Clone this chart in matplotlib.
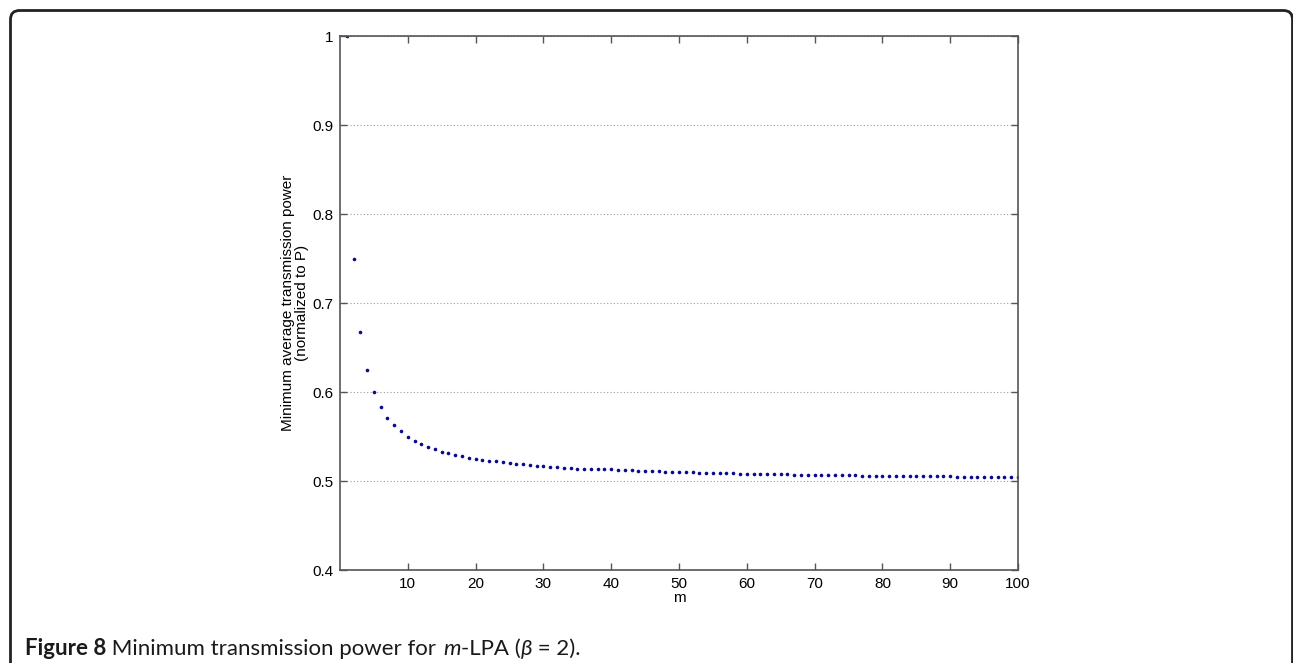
import matplotlib
matplotlib.use("Agg")
import matplotlib.pyplot as plt
from matplotlib.patches import FancyBboxPatch

m_values = list(range(1, 101))
power = [
    1.000, 0.750, 0.667, 0.625, 0.600, 0.583, 0.571, 0.563, 0.556, 0.550,
    0.545, 0.542, 0.538, 0.536, 0.533, 0.531, 0.529, 0.528, 0.526, 0.525,
    0.524, 0.523, 0.522, 0.521, 0.520, 0.519, 0.519, 0.518, 0.517, 0.517,
    0.516, 0.516, 0.515, 0.515, 0.514, 0.514, 0.514, 0.513, 0.513, 0.513,
    0.512, 0.512, 0.512, 0.511, 0.511, 0.511, 0.511, 0.510, 0.510, 0.510,
    0.510, 0.510, 0.509, 0.509, 0.509, 0.509, 0.509, 0.509, 0.508, 0.508,
    0.508, 0.508, 0.508, 0.508, 0.508, 0.508, 0.507, 0.507, 0.507, 0.507,
    0.507, 0.507, 0.507, 0.507, 0.507, 0.507, 0.506, 0.506, 0.506, 0.506,
    0.506, 0.506, 0.506, 0.506, 0.506, 0.506, 0.506, 0.506, 0.506, 0.506,
    0.505, 0.505, 0.505, 0.505, 0.505, 0.505, 0.505, 0.505, 0.505, 0.505,
]
x_ticks = [10, 20, 30, 40, 50, 60, 70, 80, 90, 100]
y_ticks = [0.4, 0.5, 0.6, 0.7, 0.8, 0.9, 1.0]
y_tick_labels = ["0.4", "0.5", "0.6", "0.7", "0.8", "0.9", "1"]

W, H = 1293, 663
fig = plt.figure(figsize=(W / 100, H / 100), dpi=100)
fig.patch.set_facecolor("white")

# outer frame (rounded top corners, open at bottom)
frame = FancyBboxPatch((10.5, -40), 1292.5 - 10.5, 652.5 + 40,
                       boxstyle="round,pad=0,rounding_size=9",
                       transform=None, fill=False, edgecolor="#222222",
                       linewidth=2.0, clip_on=False)
fig.patches.append(frame)

ax = fig.add_axes([340 / W, 1 - 570 / H, (1018 - 340) / W, (570 - 36) / H])
ax.plot(m_values, power, linestyle="none", marker="o", markersize=2.6,
        color="#0a0a8c", markeredgewidth=0)

ax.set_xlim(0, 100)
ax.set_ylim(0.4, 1.0)
ax.set_xticks(x_ticks)
ax.set_xticklabels([str(t) for t in x_ticks])
ax.set_yticks(y_ticks)
ax.set_yticklabels(y_tick_labels)
ax.yaxis.grid(True, linestyle=(0, (1, 2)), color="#9a9a9a", linewidth=0.8)
ax.tick_params(direction="in", length=5, width=1, color="#555555",
               top=True, right=True, labelsize=11, pad=5)
for s in ax.spines.values():
    s.set_color("#555555")
    s.set_linewidth(1.2)
ax.set_xlabel("m", fontsize=11, labelpad=0)
ax.set_ylabel("Minimum average transmission power\n(normalized to P)",
              fontsize=11, labelpad=2, linespacing=1.05)
for lbl in ax.get_xticklabels() + ax.get_yticklabels():
    lbl.set_family("Liberation Sans")
ax.xaxis.label.set_family("Liberation Sans")
ax.yaxis.label.set_family("Liberation Sans")

# caption
fig.canvas.draw()
renderer = fig.canvas.get_renderer()
parts = [
    ("Figure 8", "bold", "normal"),
    (" Minimum transmission power for ", "normal", "normal"),
    ("m", "normal", "italic"),
    ("-LPA (", "normal", "normal"),
    ("β", "normal", "italic"),
    (" = 2).", "normal", "normal"),
]
x = 25.0
y = H - 655.0
for txt, wt, st in parts:
    t = fig.text(x, y, txt, transform=None, fontsize=16, fontweight=wt,
                 fontstyle=st, family="Lato", color="#1a1a1a",
                 va="baseline", ha="left")
    bb = t.get_window_extent(renderer=renderer)
    x = bb.x1 + (1.0 if txt.endswith(" ") else 0.0)

fig.savefig("out.png", dpi=100)
